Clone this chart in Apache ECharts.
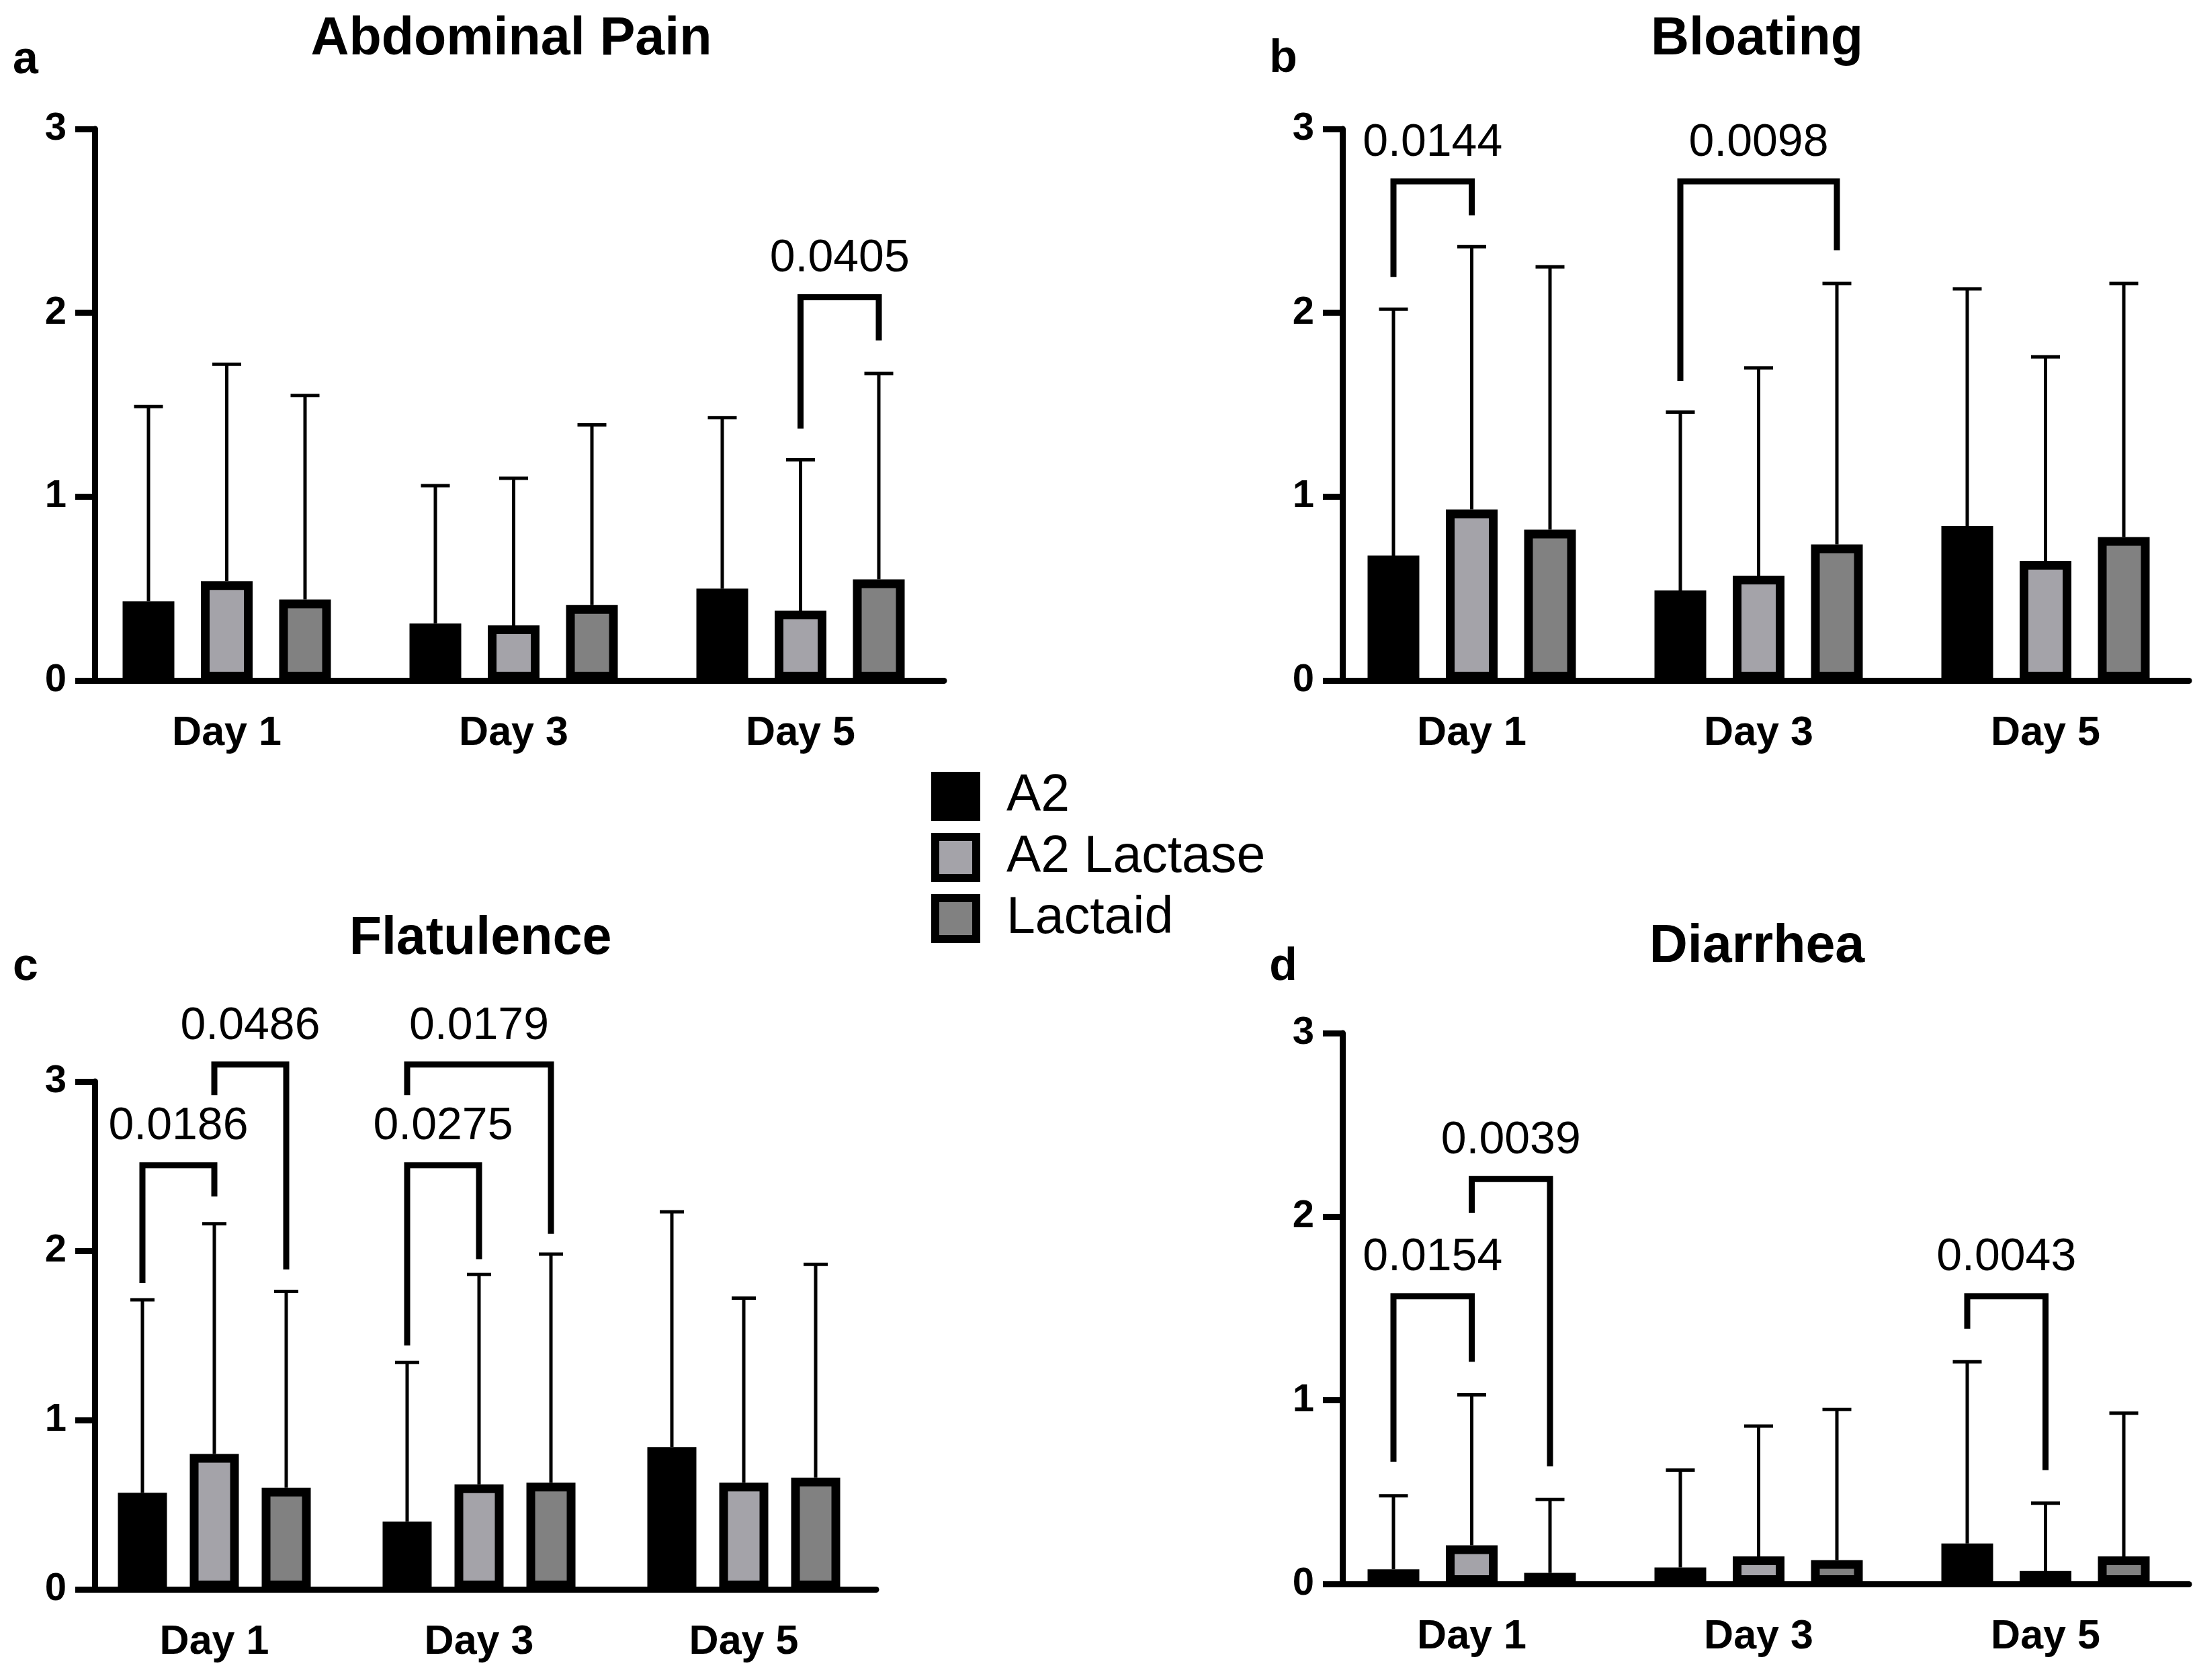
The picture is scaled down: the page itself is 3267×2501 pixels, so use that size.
<!DOCTYPE html>
<html><head><meta charset="utf-8">
<script src="https://cdn.jsdelivr.net/npm/echarts@6/dist/echarts.min.js"></script>
<style>html,body{margin:0;padding:0;background:#fff}#c{width:3267px;height:2501px}</style>
</head><body><div id="c"></div>
<script>
// ---------- data ----------
const categories = ['Day 1', 'Day 3', 'Day 5'];
const groups = ['A2', 'A2 Lactase', 'Lactaid'];
const panelTitles = ['Abdominal Pain', 'Bloating', 'Flatulence', 'Diarrhea'];
const panelLetters = ['a', 'b', 'c', 'd'];
const yMin = 0, yMax = 3, yStep = 1;

// Abdominal Pain (means and upper error-bar ends)
const painA2 = [0.43, 0.31, 0.50];
const painA2Lactase = [0.54, 0.30, 0.38];
const painLactaid = [0.44, 0.41, 0.55];
const painA2Upper = [1.49, 1.06, 1.43];
const painA2LactaseUpper = [1.72, 1.10, 1.20];
const painLactaidUpper = [1.55, 1.39, 1.67];
// [category, leftGroup, rightGroup, bracketTop, leftLegEnd, rightLegEnd, p]
const painSig = [[2, 1, 2, 2.085, 1.37, 1.85, '0.0405']];

// Bloating
const bloatA2 = [0.68, 0.49, 0.84];
const bloatA2Lactase = [0.93, 0.57, 0.65];
const bloatLactaid = [0.82, 0.74, 0.78];
const bloatA2Upper = [2.02, 1.46, 2.13];
const bloatA2LactaseUpper = [2.36, 1.70, 1.76];
const bloatLactaidUpper = [2.25, 2.16, 2.16];
const bloatSig = [[0, 0, 1, 2.715, 2.195, 2.53, '0.0144'], [1, 0, 2, 2.715, 1.63, 2.34, '0.0098']];

// Flatulence
const flatA2 = [0.57, 0.40, 0.84];
const flatA2Lactase = [0.80, 0.62, 0.63];
const flatLactaid = [0.60, 0.63, 0.66];
const flatA2Upper = [1.71, 1.34, 2.23];
const flatA2LactaseUpper = [2.16, 1.86, 1.72];
const flatLactaidUpper = [1.76, 1.98, 1.92];
const flatSig = [[0, 0, 1, 2.505, 1.81, 2.32, '0.0186'], [0, 1, 2, 3.10, 2.92, 1.89, '0.0486'],
                 [1, 0, 1, 2.505, 1.44, 1.95, '0.0275'], [1, 0, 2, 3.10, 2.92, 2.10, '0.0179']];

// Diarrhea
const diarA2 = [0.08, 0.09, 0.22];
const diarA2Lactase = [0.21, 0.15, 0.07];
const diarLactaid = [0.06, 0.13, 0.15];
const diarA2Upper = [0.48, 0.62, 1.21];
const diarA2LactaseUpper = [1.03, 0.86, 0.44];
const diarLactaidUpper = [0.46, 0.95, 0.93];
const diarSig = [[0, 0, 1, 1.567, 0.666, 1.21, '0.0154'], [0, 1, 2, 2.205, 2.02, 0.64, '0.0039'],
                 [2, 0, 1, 1.567, 1.39, 0.62, '0.0043']];

// ---------- styling / layout ----------
const FONT = '"Liberation Sans", Arial, Helvetica, sans-serif';
const fills = ['#000000', '#a4a3a9', '#818181'];
const panels = [
  {means: [painA2, painA2Lactase, painLactaid], uppers: [painA2Upper, painA2LactaseUpper, painLactaidUpper], sig: painSig,
   grid: {left: 124, top: 192, width: 1281, height: 821}, yOff: -17, barW: 77, gap: 0.513, cap: 43,
   title: [756, 15], letter: [38, 90]},
  {means: [bloatA2, bloatA2Lactase, bloatLactaid], uppers: [bloatA2Upper, bloatA2LactaseUpper, bloatLactaidUpper], sig: bloatSig,
   grid: {left: 1977, top: 192, width: 1281, height: 821}, yOff: -21, barW: 77, gap: 0.513, cap: 43,
   title: [2610, 15], letter: [1910, 88]},
  {means: [flatA2, flatA2Lactase, flatLactaid], uppers: [flatA2Upper, flatA2LactaseUpper, flatLactaidUpper], sig: flatSig,
   grid: {left: 122, top: 1610, width: 1182, height: 756}, yOff: -19, barW: 73, gap: 0.466, cap: 36,
   title: [710, 1354], letter: [38, 1440]},
  {means: [diarA2, diarA2Lactase, diarLactaid], uppers: [diarA2Upper, diarA2LactaseUpper, diarLactaidUpper], sig: diarSig,
   grid: {left: 1977, top: 1538, width: 1281, height: 820}, yOff: -21, barW: 77, gap: 0.513, cap: 43,
   title: [2610, 1366], letter: [1910, 1440]}
];

const grids = [], xAxes = [], yAxes = [], series = [], titles = [], graphics = [];
panels.forEach((p, gi) => {
  grids.push(Object.assign({containLabel: false}, p.grid));
  xAxes.push({
    type: 'category', gridIndex: gi, data: categories,
    axisLine: {lineStyle: {color: '#000', width: 9}},
    axisTick: {alignWithLabel: true, length: 35, lineStyle: {color: '#000', width: 9}},
    axisLabel: {color: '#000', fontSize: 61, fontWeight: 'bold', fontFamily: FONT, margin: 49}
  });
  yAxes.push({
    type: 'value', gridIndex: gi, min: yMin, max: yMax, interval: yStep, offset: p.yOff,
    axisLine: {show: true, lineStyle: {color: '#000', width: 9}},
    axisTick: {show: true, length: 29, lineStyle: {color: '#000', width: 9}},
    axisLabel: {color: '#000', fontSize: 58, fontWeight: 'bold', fontFamily: FONT, margin: 42},
    splitLine: {show: false}
  });
  const step = p.barW * (1 + p.gap);
  const off = g => (g - 1) * step;
  groups.forEach((name, g) => {
    series.push({
      type: 'bar', name: name, xAxisIndex: gi, yAxisIndex: gi, data: p.means[g],
      barWidth: p.barW, barGap: (p.gap * 100) + '%', z: 3, silent: true,
      itemStyle: {color: fills[g], borderColor: '#000', borderWidth: 13}
    });
    series.push({
      type: 'custom', name: name + ' SD', xAxisIndex: gi, yAxisIndex: gi, z: 2, silent: true, clip: false,
      data: p.means[g].map((m, i) => [i, m, p.uppers[g][i]]),
      renderItem: (params, api) => {
        const a = api.coord([api.value(0), api.value(1)]);
        const b = api.coord([api.value(0), api.value(2)]);
        const x = a[0] + off(g);
        return {type: 'group', children: [
          {type: 'line', shape: {x1: x, y1: a[1], x2: x, y2: b[1]}, style: {stroke: '#000', lineWidth: 5}},
          {type: 'line', shape: {x1: x - p.cap / 2, y1: b[1], x2: x + p.cap / 2, y2: b[1]}, style: {stroke: '#000', lineWidth: 5}}
        ]};
      }
    });
  });
  series.push({
    type: 'custom', name: 'p-values', xAxisIndex: gi, yAxisIndex: gi, z: 5, silent: true, clip: false,
    data: p.sig.map(s => s.slice(0, 6)),
    renderItem: (params, api) => {
      const cat = api.value(0);
      const t = api.coord([cat, api.value(3)]);
      const l = api.coord([cat, api.value(4)]);
      const r = api.coord([cat, api.value(5)]);
      const xl = t[0] + off(api.value(1)), xr = t[0] + off(api.value(2));
      return {type: 'group', children: [
        {type: 'polyline', shape: {points: [[xl, l[1]], [xl, t[1]], [xr, t[1]], [xr, r[1]]]},
         style: {stroke: '#000', lineWidth: 9, fill: 'none', lineJoin: 'miter'}},
        {type: 'text', style: {text: p.sig[params.dataIndex][6], x: (xl + xr) / 2, y: t[1] - 57,
          align: 'center', verticalAlign: 'middle', fontSize: 68, fontFamily: FONT, fill: '#000'}}
      ]};
    }
  });
  titles.push({text: panelTitles[gi], left: p.title[0], top: p.title[1], textAlign: 'center',
    textStyle: {fontSize: 79, fontWeight: 'bold', color: '#000', fontFamily: FONT}});
  graphics.push({type: 'text', x: p.letter[0], y: p.letter[1],
    style: {text: panelLetters[gi], align: 'center', verticalAlign: 'middle', fontSize: 68,
      fontWeight: 'bold', fontFamily: FONT, fill: '#000'}});
});

const chart = echarts.init(document.getElementById('c'), null, {renderer: 'canvas'});
chart.setOption({
  backgroundColor: '#fff',
  animation: false,
  textStyle: {fontFamily: FONT},
  title: titles,
  grid: grids, xAxis: xAxes, yAxis: yAxes, series: series,
  graphic: graphics,
  legend: {
    orient: 'vertical', left: 1381, top: 1142, itemWidth: 61, itemHeight: 61, itemGap: 14,
    selectedMode: false,
    textStyle: {fontSize: 77, color: '#000', fontFamily: FONT, padding: [0, 0, 0, 40]},
    data: groups.map((n, g) => ({name: n, icon: 'rect',
      itemStyle: {color: fills[g], borderColor: '#000', borderWidth: 12}}))
  }
});
</script></body></html>
